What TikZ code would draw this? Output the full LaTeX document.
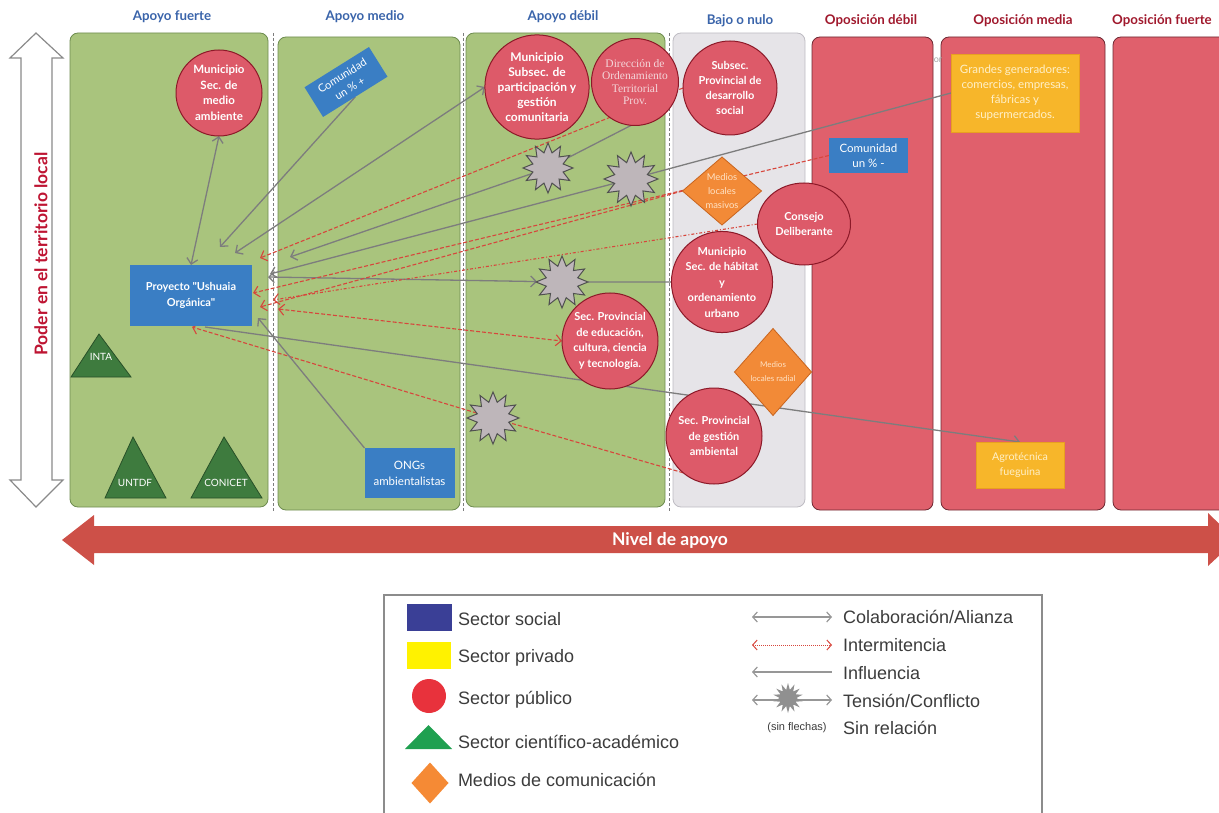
\documentclass[tikz,border=0pt]{standalone}
\usepackage{fontspec}
\newfontfamily\lato{Lato}
\newfontfamily\lsans{Liberation Sans}
\newfontfamily\lserif{Liberation Serif}
\usetikzlibrary{shapes.geometric,arrows.meta}
\definecolor{greenfill}{HTML}{A9C47D}
\definecolor{greenline}{HTML}{6E8C50}
\definecolor{grayfill}{HTML}{E6E4E8}
\definecolor{grayline}{HTML}{BEBCC3}
\definecolor{redfill}{HTML}{E0606C}
\definecolor{redline}{HTML}{6E2832}
\definecolor{pubfill}{HTML}{DD5A69}
\definecolor{publine}{HTML}{8C1928}
\definecolor{socfill}{HTML}{3A7EC4}
\definecolor{privfill}{HTML}{F7B62A}
\definecolor{privline}{HTML}{E8A020}
\definecolor{privtext}{HTML}{FFF0C8}
\definecolor{medfill}{HTML}{F28A37}
\definecolor{medline}{HTML}{C8641E}
\definecolor{medtext}{HTML}{FFE2C4}
\definecolor{acadfill}{HTML}{3E7B3E}
\definecolor{acadline}{HTML}{285028}
\definecolor{starfill}{HTML}{BEB6BA}
\definecolor{starline}{HTML}{505050}
\definecolor{linegray}{HTML}{7D7D7D}
\definecolor{linered}{HTML}{D7463C}
\definecolor{titblue}{HTML}{3A64AA}
\definecolor{titred}{HTML}{A0192D}
\definecolor{podred}{HTML}{BE1432}
\definecolor{bigarrow}{HTML}{CD5048}
\definecolor{vertline}{HTML}{8A8A8A}
\definecolor{dirtext}{HTML}{F4D6DA}
\definecolor{legblue}{HTML}{3A3F96}
\definecolor{legyellow}{HTML}{FFF200}
\definecolor{legred}{HTML}{E8323C}
\definecolor{leggreen}{HTML}{1FA050}
\definecolor{legorange}{HTML}{F58A35}
\definecolor{legtext}{HTML}{3C3C3C}
\definecolor{legframe}{HTML}{8C8C8C}
\pgfdeclarelayer{bg}
\pgfdeclarelayer{lines}
\pgfsetlayers{bg,lines,main}
\begin{document}
\begin{tikzpicture}[x=1pt,y=-1pt,
  every node/.style={inner sep=0pt, outer sep=0pt},
  >={Straight Barb[length=5.5pt,width=11pt]},
  colg/.style={fill=greenfill, draw=greenline, line width=0.8pt, rounded corners=8pt},
  colgray/.style={fill=grayfill, draw=grayline, line width=0.8pt, rounded corners=8pt},
  colred/.style={fill=redfill, draw=redline, line width=0.8pt, rounded corners=8pt},
  divider/.style={draw=linegray, line width=0.8pt, dash pattern=on 3pt off 2pt},
  tblue/.style={text=titblue, font=\lato\bfseries\fontsize{13.3}{15}\selectfont},
  tred/.style={text=titred, font=\lato\bfseries\fontsize{13.3}{15}\selectfont},
  pub/.style={circle, draw=publine, fill=pubfill, line width=1pt, text=white, align=center, font=\lato\bfseries\fontsize{11}{15}\selectfont},
  soc/.style={rectangle, fill=socfill, text=white, align=center, font=\lato\fontsize{11.5}{15}\selectfont},
  priv/.style={rectangle, fill=privfill, draw=privline, line width=0.6pt, text=privtext, align=center, font=\lato\fontsize{11.5}{15}\selectfont},
  media/.style={diamond, fill=medfill, draw=medline, line width=0.8pt, text=medtext, align=center, font=\lato\fontsize{9.4}{14}\selectfont},
  acad/.style={fill=acadfill, draw=acadline, line width=0.8pt},
  acadtxt/.style={text=white, font=\lato\fontsize{10}{12}\selectfont},
  boom/.style={star, star points=12, star point ratio=1.6, fill=starfill, draw=starline, line width=1pt, minimum size=50pt},
  gl/.style={draw=linegray, line width=1.3pt},
  rl/.style={draw=linered, line width=1.1pt, dash pattern=on 4pt off 2pt},
  legtxt/.style={anchor=west, text=legtext, font=\lsans\fontsize{18}{20}\selectfont},
  legline/.style={draw=linegray!80, line width=1.2pt, arrows={Straight Barb[length=4.5pt,width=10pt]-Straight Barb[length=4.5pt,width=10pt]}}
]
\useasboundingbox (0,0) rectangle (1219,813);

% ---------- background columns ----------
\begin{pgfonlayer}{bg}
\path[colg] (70,33) rectangle (268,507);
\path[colg] (278,37) rectangle (460,510);
\path[colg] (466,33) rectangle (665,507);
\path[colgray] (673,33) rectangle (805,507);
\path[colred] (812,37) rectangle (933,510);
\path[colred] (941,37) rectangle (1105,510);
\path[colred] (1113,37) rectangle (1250,510);
\draw[divider] (273,33) -- (273,512);
\draw[divider] (463,33) -- (463,512);
\draw[divider] (669,33) -- (669,512);
% vertical double arrow
\path[fill=white, draw=vertline, line width=1.2pt]
  (36,33) -- (63,58) -- (52,58) -- (52,480) -- (63,480) -- (36,507)
  -- (10,480) -- (21,480) -- (21,58) -- (10,58) -- cycle;
% horizontal big arrow
\path[fill=bigarrow]
  (62,540) -- (94,515) -- (94,526) -- (1208,526) -- (1208,513)
  -- (1236,540) -- (1208,566) -- (1208,553) -- (94,553) -- (94,565) -- cycle;
\end{pgfonlayer}

\node[rotate=90, text=podred, font=\lato\bfseries\fontsize{17.5}{19}\selectfont] (poder) at (41,254) {Poder en el territorio local};
\node[text=white, font=\lato\bfseries\fontsize{17.5}{19}\selectfont] (nivel) at (670,540) {Nivel de apoyo};

% ---------- titles ----------
\node[tblue] (t1) at (172,17) {Apoyo fuerte};
\node[tblue] (t2) at (365,17) {Apoyo medio};
\node[tblue] (t3) at (563,17) {Apoyo débil};
\node[tblue] (t4) at (740,21) {Bajo o nulo};
\node[tred] (t5) at (871,21) {Oposición débil};
\node[tred] (t6) at (1023,21) {Oposición media};
\node[tred] (t7) at (1162,21) {Oposición fuerte};

% ---------- actors ----------
\node[text=linegray!70, font=\lato\fontsize{9}{10}\selectfont] (orfrag) at (938,60) {or};
\node[pub, minimum size=86pt, font=\lato\bfseries\fontsize{11.5}{15.5}\selectfont] (mma) at (219,93) {Municipio\\Sec. de\\medio\\ambiente};
\node[soc, rotate=32, minimum width=76pt, minimum height=35pt, font=\lato\fontsize{11}{14.5}\selectfont] (comp) at (346,82) {Comunidad\\un \% +};
\node[soc, minimum width=122pt, minimum height=61pt, font=\lato\bfseries\fontsize{11}{15.5}\selectfont] (proy) at (191,295.5) {Proyecto "Ushuaia\\Orgánica"};
\node[soc, minimum width=90pt, minimum height=50pt, font=\lato\fontsize{11.5}{16}\selectfont] (ongs) at (409.5,473) {ONGs\\ambientalistas};

\path[acad] (71,377) -- (131,377) -- (99,334) -- cycle;
\node[acadtxt] (inta) at (101,357) {INTA};
\path[acad] (105,498) -- (166,498) -- (133,437) -- cycle;
\node[acadtxt] (untdf) at (135,483) {UNTDF};
\path[acad] (191,498) -- (262,498) -- (224,437) -- cycle;
\node[acadtxt] (conicet) at (226,483) {CONICET};

\node[pub, minimum size=102pt, font=\lato\bfseries\fontsize{12}{15}\selectfont] (part) at (537,87) {Municipio\\Subsec. de\\participación y\\gestión\\comunitaria};
\node[pub, minimum size=87pt, text=dirtext, font=\lserif\fontsize{11.5}{12.5}\selectfont] (dir) at (635,82) {Dirección de\\Ordenamiento\\Territorial\\Prov.};
\node[pub, minimum size=94pt] (subprov) at (730,88) {Subsec.\\Provincial de\\desarrollo\\social};
\node[media, minimum width=79pt, minimum height=68pt] (masivos) at (722,191) {Medios\\locales\\masivos};
\node[pub, ellipse, minimum width=93pt, minimum height=82pt] (consejo) at (804,224) {Consejo\\Deliberante};
\node[pub, minimum size=96pt, font=\lato\bfseries\fontsize{11}{15.5}\selectfont] (hab) at (722,282) {Municipio\\Sec. de hábitat\\y\\ordenamiento\\urbano};
\node[pub, minimum size=96pt, font=\lato\bfseries\fontsize{11}{15.5}\selectfont] (edu) at (610,341) {Sec. Provincial\\de educación,\\cultura, ciencia\\y tecnología.};
\node[media, minimum width=77pt, minimum height=87pt, font=\lato\fontsize{8}{14}\selectfont] (radial) at (773,372) {Medios\\locales radial};
\node[pub, minimum size=96pt, font=\lato\bfseries\fontsize{11}{15.5}\selectfont] (gest) at (714,436) {Sec. Provincial\\de gestión\\ambiental};
\node[soc, minimum width=79pt, minimum height=35pt] (comm) at (868.5,155.5) {Comunidad\\un \% -};
\node[priv, minimum width=128pt, minimum height=78pt] (grandes) at (1015,93) {Grandes generadores:\\comercios, empresas,\\fábricas y\\supermercados.};
\node[priv, minimum width=88pt, minimum height=46pt, font=\lato\fontsize{10.7}{15}\selectfont] (agro) at (1020,465) {Agrotécnica\\fueguina};

% tension stars
\node[boom] (s1) at (548,168) {};
\node[boom, minimum size=54pt] (s2) at (631,179) {};
\node[boom, minimum size=52pt] (s3) at (562,282) {};
\node[boom, minimum size=52pt] (s4) at (493,418) {};

% ---------- connector ends near the project ----------
\coordinate (e1) at (220,247);
\coordinate (e2) at (235,253);
\coordinate (e3) at (290,257);
\coordinate (e4) at (260,258);
\coordinate (e5) at (270,274);
\coordinate (e6) at (268,277);
\coordinate (e7) at (253,293);
\coordinate (e8) at (260,307);
\coordinate (e9) at (273,300);
\coordinate (e10) at (278,309);
\coordinate (e11) at (192,327);
\coordinate (e12) at (258,318);
\coordinate (e13) at (205,327);

\begin{pgfonlayer}{lines}
\draw[gl,<->] (mma.south) -- (proy.north);
\draw[gl,->] (comp.south) -- (e1);
\draw[gl,<->] (part.west) -- (e2);
\draw[gl,->] (dir.265) -- (s1) -- (e3);
\draw[rl,->] (subprov.west) -- (e4);
\draw[gl,->] (grandes.west) -- (s2) -- (e5);
\draw[gl,<->] (hab.west) -- (s3) -- (e6);
\draw[rl,->] (comm.west) -- (e7);
\draw[rl,->] (masivos.west) -- (e8);
\draw[rl,->,dash pattern=on 3pt off 2pt on 1pt off 2pt] (consejo.west) -- (e9);
\draw[rl,<->] (e10) -- (edu.west);
\draw[rl,->] (gest.230) -- (s4) -- (e11);
\draw[gl,->] (ongs.north west) -- (e12);
\draw[gl,->] (e13) -- (agro.north);
\end{pgfonlayer}

% ---------- legend ----------
\draw[draw=legframe, line width=1.3pt] (384,820) -- (384,595) -- (1042,595) -- (1042,820);
\node[fill=legblue, minimum width=45pt, minimum height=27pt] (lg1) at (429.5,617.5) {};
\node[legtxt] (lt1) at (458,619) {Sector social};
\node[fill=legyellow, minimum width=44pt, minimum height=27pt] (lg2) at (429,655.5) {};
\node[legtxt] (lt2) at (458,658) {Sector privado};
\node[circle, fill=legred, minimum size=34pt] (lg3) at (429,696) {};
\node[legtxt] (lt3) at (458,700) {Sector público};
\path[fill=leggreen] (405,749) -- (452,749) -- (428.5,725) -- cycle;
\node[legtxt] (lt4) at (458,742) {Sector científico-académico};
\node[diamond, fill=legorange, minimum width=37pt, minimum height=41pt] (lg5) at (430,783) {};
\node[legtxt] (lt5) at (458,780) {Medios de comunicación};

\coordinate (la1) at (752,617); \coordinate (lb1) at (832,617);
\coordinate (la2) at (752,645); \coordinate (lb2) at (832,645);
\coordinate (la3) at (752,672); \coordinate (lb3) at (832,672);
\coordinate (la4) at (752,700); \coordinate (lb4) at (832,700);
\draw[legline] (la1) -- (lb1);
\draw[legline, draw=linered, line width=1pt, dash pattern=on 1pt off 1pt] (la2) -- (lb2);
\draw[draw=linegray!80, line width=1.2pt, arrows={Straight Barb[length=4.5pt,width=10pt]-}] (la3) -- (lb3);
\draw[legline] (la4) -- (lb4);
\node[star, star points=14, star point ratio=1.8, fill=linegray!85, minimum size=30pt] (ls) at (788,698) {};
\node[legtxt] (lt6) at (843,617) {Colaboración/Alianza};
\node[legtxt] (lt7) at (843,645) {Intermitencia};
\node[legtxt] (lt8) at (843,673) {Influencia};
\node[legtxt] (lt9) at (843,701) {Tensión/Conflicto};
\node[text=legtext, font=\lsans\fontsize{11}{12}\selectfont] (lt10) at (797,728) {(sin flechas)};
\node[legtxt] (lt11) at (843,728) {Sin relación};
\end{tikzpicture}
\end{document}
